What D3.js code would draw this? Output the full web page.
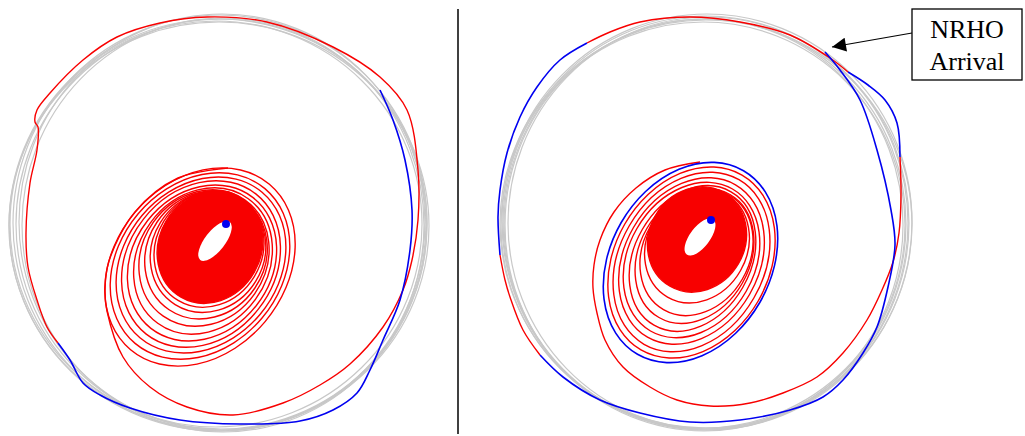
<!DOCTYPE html>
<html>
<head>
    <script src="https://cdnjs.cloudflare.com/ajax/libs/d3/7.8.5/d3.min.js"></script>
    <style>
        body { margin: 0; background: #fff; }
        .nrho { fill: none; stroke: #c8c8c8; stroke-width: 1.2px; }
        .thrust { fill: none; stroke: #f80000; stroke-width: 1.4px; }
        .coast { fill: none; stroke: #0000f0; stroke-width: 1.6px; }
        .label { font-family: "Liberation Serif", "Times New Roman", serif; font-size: 26px; fill: #000; }
    </style>
</head>
<body>
    <div id="chart"></div>
    <script>
        const width = 1025, height = 436;

        // reference NRHO revolutions: [cx, cy, rx, ry]
        const nrhoLeft = [[0, -1, 207, 208], [1, 0, 205, 205], [-2, 1, 209, 206], [2, -2, 203, 208],
                          [-1, 2, 210, 204], [-4, 0, 206, 203], [3, 1, 201, 207]];
        const nrhoRight = [[1, -1, 203, 207], [0, 0, 201, 205], [2, -2, 205, 208], [-1, 1, 199, 206],
                           [1, 0, 206, 204], [-2, 1, 202, 203], [3, -1, 200, 206]];

        // spiral revolutions: [cx, cy, a, b, tilt]
        const ringsLeft = [
            [-20, 43, 108, 85, -50], [-20, 42, 101, 81, -50], [-19, 41, 95, 77, -50],
            [-19, 40, 89, 73, -52], [-18, 39, 83, 69, -52], [-17, 37, 77, 65, -54],
            [-16, 34, 71, 62, -55], [-14, 31, 66, 59, -56], [-12, 28, 62, 56, -58],
            [-11, 25, 60, 53, -59]
        ];
        const ringsRight = [
            [-13.5, 38.5, 101, 77, -60], [-13.5, 38, 95, 72, -60], [-13.5, 37, 88, 67, -60],
            [-13.5, 36, 82, 63, -60], [-12.5, 34.5, 77, 58, -60], [-10.5, 32, 71, 55, -60],
            [-8.5, 28.5, 66, 53, -60], [-8, 22, 59, 50, -60]
        ];
        const coastRingsRight = [[-14.5, 38.5, 106, 80, -60]];

        const coreLeft = [-10, 23, 58, 51, -60];
        const coreRight = [-8, 15.5, 54, 48, -60];
        const holeLeft = [-5, 17, 24, 10, -52];
        const holeRight = [-5, 13, 22, 10, -53];
        const moonLeft = [6, 0];
        const moonRight = [6, -4];

        // thrust arcs (red) and coast arcs (blue), [x, y]
        const thrustLeft = [[
            [8, -56], [-42, -46], [-85, -12], [-111, 37], [-115, 66], [-113, 87], [-97, 133], [-70, 163],
            [-33, 183], [13, 191], [63, 179], [100, 161], [130, 140], [163, 103], [183, 66], [192, 36],
            [198, -4], [198, -54], [187, -114], [160, -147], [113, -177], [47, -202], [-13, -207],
            [-60, -201], [-103, -187], [-137, -164], [-170, -131], [-183, -114], [-185, -102], [-182, -97],
            [-183, -74], [-190, -41], [-194, 9], [-192, 43], [-183, 76], [-173, 103], [-162, 119]
        ]];
        const coastLeft = [[
            [-162, 119], [-150, 136], [-137, 159], [-120, 171], [-90, 184], [-40, 196], [20, 200], [80, 197],
            [113, 186], [137, 169], [150, 146], [163, 116], [180, 76], [190, 26], [192, -14], [185, -64],
            [173, -104], [160, -134]
        ]];

        const thrustRight = [
            [[-5, -62], [-40, -54], [-69, -36], [-91, -12], [-105, 16], [-111, 41], [-112, 64], [-108, 89],
             [-100, 116], [-82, 143], [-55, 163], [-28, 176], [5, 182], [45, 179], [78, 169], [112, 153],
             [138, 129], [162, 96], [177, 66], [188, 38], [194, 9], [196, -29], [195, -67]],
            [[143, -152], [125, -166], [85, -189], [35, -202], [-15, -207], [-65, -202], [-95, -192], [-118, -181]],
            [[-205, 31], [-200, 56], [-195, 73], [-182, 106], [-165, 131]]
        ];
        const coastRight = [
            [[195, -67], [192, -101], [180, -124], [163, -139], [143, -152]],
            [[-118, -181], [-145, -164], [-168, -137], [-185, -107], [-198, -71], [-205, -34], [-207, -7], [-205, 31]],
            [[-165, 131], [-142, 153], [-105, 176], [-65, 189], [-15, 198], [35, 196], [85, 186], [118, 173],
             [138, 156], [158, 129], [172, 103], [183, 63], [190, 21], [186, -14], [172, -74], [155, -124],
             [135, -154], [120, -172]]
        ];

        const arrival = [126, -177];
        const labelLines = ["NRHO", "Arrival"];

        const panels = [
            { cx: 220, nrho: nrhoLeft, rings: ringsLeft, coastRings: [], core: coreLeft, hole: holeLeft,
              moon: moonLeft, thrust: thrustLeft, coast: coastLeft },
            { cx: 705, nrho: nrhoRight, rings: ringsRight, coastRings: coastRingsRight, core: coreRight, hole: holeRight,
              moon: moonRight, thrust: thrustRight, coast: coastRight }
        ];

        const svg = d3.select("#chart").append("svg")
            .attr("width", width).attr("height", height);

        svg.append("defs").append("marker")
            .attr("id", "head")
            .attr("viewBox", "0 0 10 10")
            .attr("refX", 10).attr("refY", 5)
            .attr("markerWidth", 16).attr("markerHeight", 14)
            .attr("markerUnits", "userSpaceOnUse")
            .attr("orient", "auto")
            .append("path").attr("d", "M0,0 L10,5 L0,10 Z").attr("fill", "#000");

        function drawEllipses(g, f, data, cls, fill) {
            g.selectAll(null).data(data).enter().append("ellipse")
                .attr("class", cls)
                .attr("transform", d => `translate(${f.x(d[0])},${f.y(d[1])}) rotate(${d[4] || 0})`)
                .attr("rx", d => f.x(d[2]) - f.x(0))
                .attr("ry", d => f.y(d[3]) - f.y(0))
                .style("fill", fill || null);
        }

        panels.forEach(p => {
            const f = {
                x: d3.scaleLinear().domain([-220, 220]).range([p.cx - 220, p.cx + 220]),
                y: d3.scaleLinear().domain([-224, 212]).range([0, height])
            };
            p.f = f;
            const g = svg.append("g");
            const line = d3.line()
                .x(d => f.x(d[0])).y(d => f.y(d[1]))
                .curve(d3.curveCatmullRom.alpha(0.5));

            drawEllipses(g, f, p.nrho, "nrho");
            drawEllipses(g, f, [p.core], "thrust", "#f80000");
            drawEllipses(g, f, p.rings, "thrust");
            drawEllipses(g, f, [p.hole], null, "#fff");

            g.selectAll(null).data(p.thrust).enter().append("path")
                .attr("class", "thrust").attr("d", line);
            g.selectAll(null).data(p.coast).enter().append("path")
                .attr("class", "coast").attr("d", line);
            drawEllipses(g, f, p.coastRings, "coast");

            g.append("circle")
                .attr("cx", f.x(p.moon[0])).attr("cy", f.y(p.moon[1]))
                .attr("r", 4).attr("fill", "#0000f0");
        });

        // divider between the two views
        svg.append("line")
            .attr("x1", 458).attr("x2", 458).attr("y1", 9).attr("y2", 434)
            .attr("stroke", "#000").attr("stroke-width", 1.5);

        // NRHO arrival callout
        const fr = panels[1].f;
        svg.append("line")
            .attr("x1", 912).attr("y1", 33)
            .attr("x2", fr.x(arrival[0]) + 1).attr("y2", fr.y(arrival[1]))
            .attr("stroke", "#000").attr("stroke-width", 1.2)
            .attr("marker-end", "url(#head)");
        svg.append("rect")
            .attr("x", 912).attr("y", 9).attr("width", 110).attr("height", 71)
            .attr("fill", "#fff").attr("stroke", "#000").attr("stroke-width", 1.3);
        svg.selectAll(".label").data(labelLines).enter().append("text")
            .attr("class", "label")
            .attr("x", 967).attr("y", (d, i) => 38 + i * 32)
            .attr("text-anchor", "middle")
            .text(d => d);
    </script>
</body>
</html>
